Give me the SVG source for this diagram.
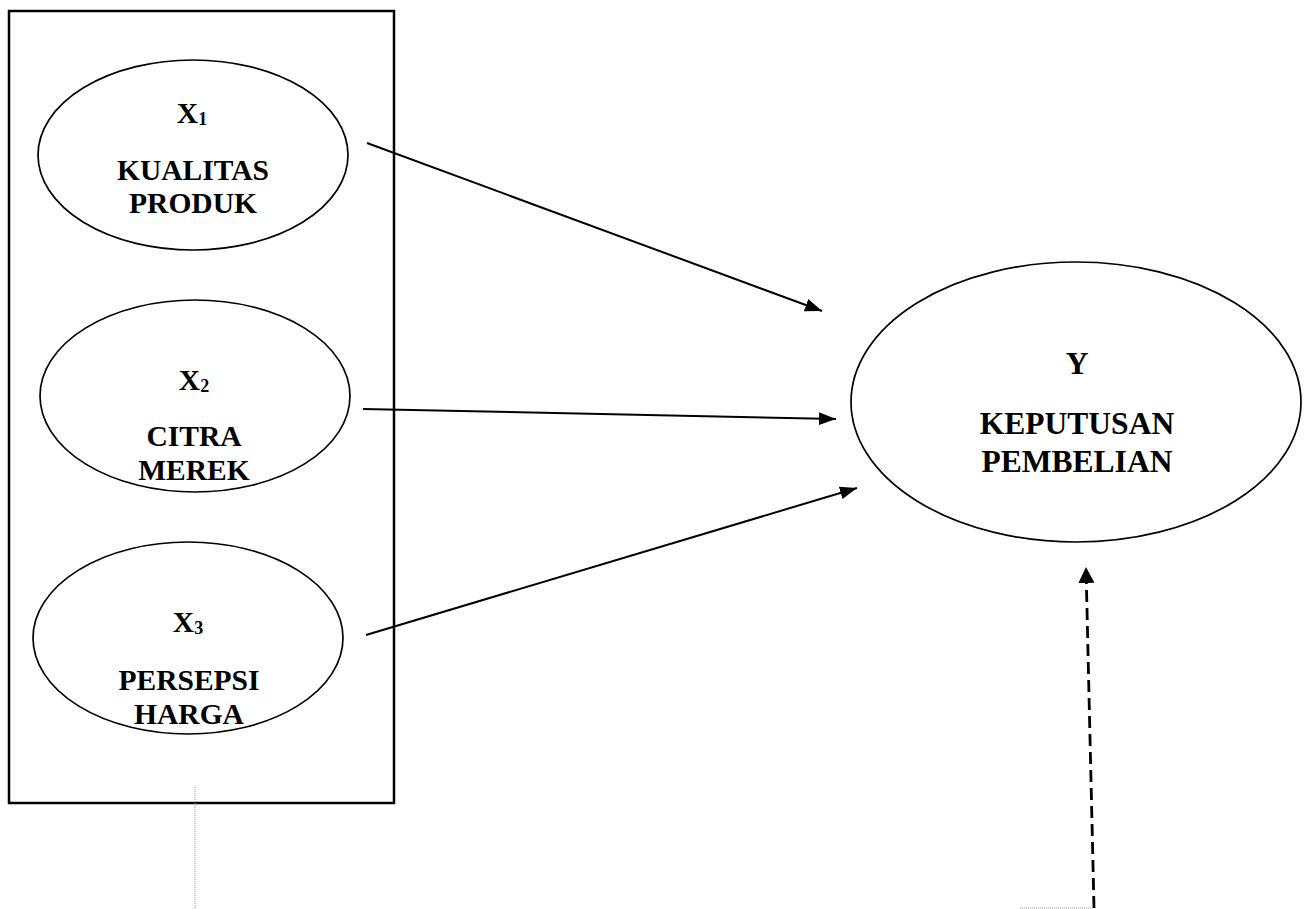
<svg xmlns="http://www.w3.org/2000/svg" width="1313" height="909" viewBox="0 0 1313 909">
<style>
.box{fill:none;stroke:#000;stroke-width:2.5}
.node{fill:#fff;stroke:#000;stroke-width:1.7}
.lbl{font-family:"Liberation Serif","Times New Roman",serif;font-weight:bold;font-size:29.5px;fill:#000;text-anchor:middle}
.big{font-size:31.5px}
.sub{font-size:18px}
.arrow{stroke:#000;stroke-width:2;fill:none;marker-end:url(#ah)}
.dash{stroke:#000;stroke-width:2.8;fill:none;stroke-dasharray:12 6;marker-end:url(#ah2)}
.dot{stroke:#999;stroke-width:1;fill:none;stroke-dasharray:1 1}
</style>
<defs>
<marker id="ah" markerUnits="userSpaceOnUse" markerWidth="18" markerHeight="14" refX="17" refY="6.5" orient="auto">
<path d="M0,0 L17,6.5 L0,13 z" fill="#000" stroke="none"/>
</marker>
<marker id="ah2" markerUnits="userSpaceOnUse" markerWidth="17" markerHeight="17" refX="16" refY="8" orient="auto">
<path d="M0,0 L16,8 L0,16 z" fill="#000" stroke="none"/>
</marker>
</defs>
<rect width="1313" height="909" fill="#fff"/>
<rect id="frame" class="box" x="9" y="11" width="385" height="792"/>
<g id="x1">
<ellipse class="node" cx="193" cy="155" rx="155" ry="95"/>
<text class="lbl" x="192" y="123">X<tspan class="sub" dy="2">1</tspan></text>
<text class="lbl" x="193" y="180">KUALITAS</text>
<text class="lbl" x="193" y="213">PRODUK</text>
</g>
<g id="x2">
<ellipse class="node" cx="195" cy="396" rx="155" ry="96"/>
<text class="lbl" x="194" y="390">X<tspan class="sub" dy="2">2</tspan></text>
<text class="lbl" x="194" y="446">CITRA</text>
<text class="lbl" x="194" y="480">MEREK</text>
</g>
<g id="x3">
<ellipse class="node" cx="188" cy="638" rx="155" ry="96"/>
<text class="lbl" x="188" y="632">X<tspan class="sub" dy="2">3</tspan></text>
<text class="lbl" x="189" y="690">PERSEPSI</text>
<text class="lbl" x="189" y="724">HARGA</text>
</g>
<g id="y">
<ellipse class="node" cx="1076" cy="402" rx="225" ry="140"/>
<text class="lbl big" x="1077" y="374">Y</text>
<text class="lbl big" x="1077" y="434">KEPUTUSAN</text>
<text class="lbl big" x="1077" y="472">PEMBELIAN</text>
</g>
<g id="connectors">
<line class="arrow" x1="367" y1="143" x2="822" y2="311"/>
<line class="arrow" x1="363" y1="409" x2="836" y2="419"/>
<line class="arrow" x1="366" y1="635" x2="857" y2="488"/>
<line class="dash" x1="1094" y1="908" x2="1086" y2="567"/>
<line class="dot" x1="195" y1="787" x2="195" y2="909"/>
<line class="dot" x1="1020" y1="908" x2="1094" y2="908"/>
</g>
</svg>
